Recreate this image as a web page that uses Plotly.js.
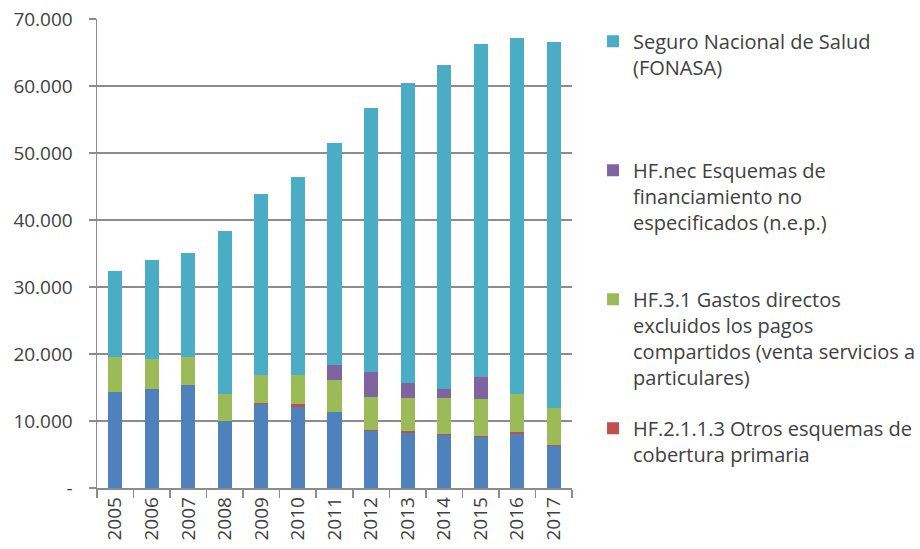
<!DOCTYPE html>
<html>
<head>
<meta charset="utf-8">
<script src="https://cdn.plot.ly/plotly-3.0.1.min.js"></script>
<style>html,body{margin:0;padding:0;background:#fff;}#chart{width:920px;height:549px;}</style>
</head>
<body>
<div id="chart"></div>
<script>
const years = ['2005','2006','2007','2008','2009','2010','2011','2012','2013','2014','2015','2016','2017'];
const otrosBase = [14400,14800,15400,10000,12500,12100,11350,8500,8250,7900,7550,8100,6200];
const hf2113 = [0,0,0,0,250,400,0,200,200,200,200,200,200];
const hf31 = [5150,4400,4150,4000,4150,4400,4750,4950,5000,5350,5500,5700,5550];
const hfnec = [0,0,0,0,0,0,2300,3650,2150,1300,3250,0,0];
const fonasa = [12850,14800,15550,24400,27000,29500,33100,39400,44800,48450,49800,53100,54550];
const yTickVals = [0,10000,20000,30000,40000,50000,60000,70000];
const yTickText = ['-','10.000','20.000','30.000','40.000','50.000','60.000','70.000'];

const names = {
  base: 'Otros esquemas',
  red: 'HF.2.1.1.3 Otros esquemas de<br>cobertura primaria<br> <br> ',
  green: 'HF.3.1 Gastos directos<br>excluidos los pagos<br>compartidos (venta servicios a<br>particulares)',
  purple: 'HF.nec Esquemas de<br>financiamiento no<br>especificados (n.e.p.)<br> ',
  teal: 'Seguro Nacional de Salud<br>(FONASA)<br> <br> '
};

const traces = [
  {type:'bar', x:years, y:otrosBase, name:names.base, marker:{color:'#4F81BD'}, showlegend:false},
  {type:'bar', x:years, y:hf2113, name:names.red, marker:{color:'#C0504D'}, legendgroup:'d', legendrank:4},
  {type:'bar', x:years, y:hf31, name:names.green, marker:{color:'#9BBB59'}, legendgroup:'c', legendrank:3},
  {type:'bar', x:years, y:hfnec, name:names.purple, marker:{color:'#8064A2'}, legendgroup:'b', legendrank:2},
  {type:'bar', x:years, y:fonasa, name:names.teal, marker:{color:'#4BACC6'}, legendgroup:'a', legendrank:1}
];

const gray = '#8c8c8c';
const layout = {
  width:920, height:549,
  margin:{l:97, r:348, t:19, b:61},
  barmode:'stack',
  bargap:0.615,
  paper_bgcolor:'#fff', plot_bgcolor:'#fff',
  font:{family:'Open Sans, sans-serif', color:'#404040', size:19},
  xaxis:{type:'category', showline:true, linecolor:gray, linewidth:1.5,
    ticks:'outside', tickson:'boundaries', ticklen:8, tickcolor:gray, tickwidth:1.5,
    tickangle:-90, tickfont:{size:19}, showgrid:false, zeroline:false, fixedrange:true},
  yaxis:{range:[0,70000], tickvals:yTickVals, ticktext:yTickText, showline:true, linecolor:gray, linewidth:1.5,
    ticks:'outside', ticklen:7, tickcolor:gray, tickwidth:1.5, showgrid:true, gridcolor:gray, gridwidth:1.5,
    zeroline:false, tickfont:{size:19}, ticklabelstandoff:12},
  legend:{xref:'container', yref:'container', x:0.6446, xanchor:'left', y:0.9605, yanchor:'top',
    valign:'top', tracegroupgap:22, maxheight:540,
    font:{size:20, color:'#404040'}, bgcolor:'rgba(0,0,0,0)'},
  showlegend:true
};

Plotly.newPlot('chart', traces, layout, {displayModeBar:false, staticPlot:true});
</script>
</body>
</html>
